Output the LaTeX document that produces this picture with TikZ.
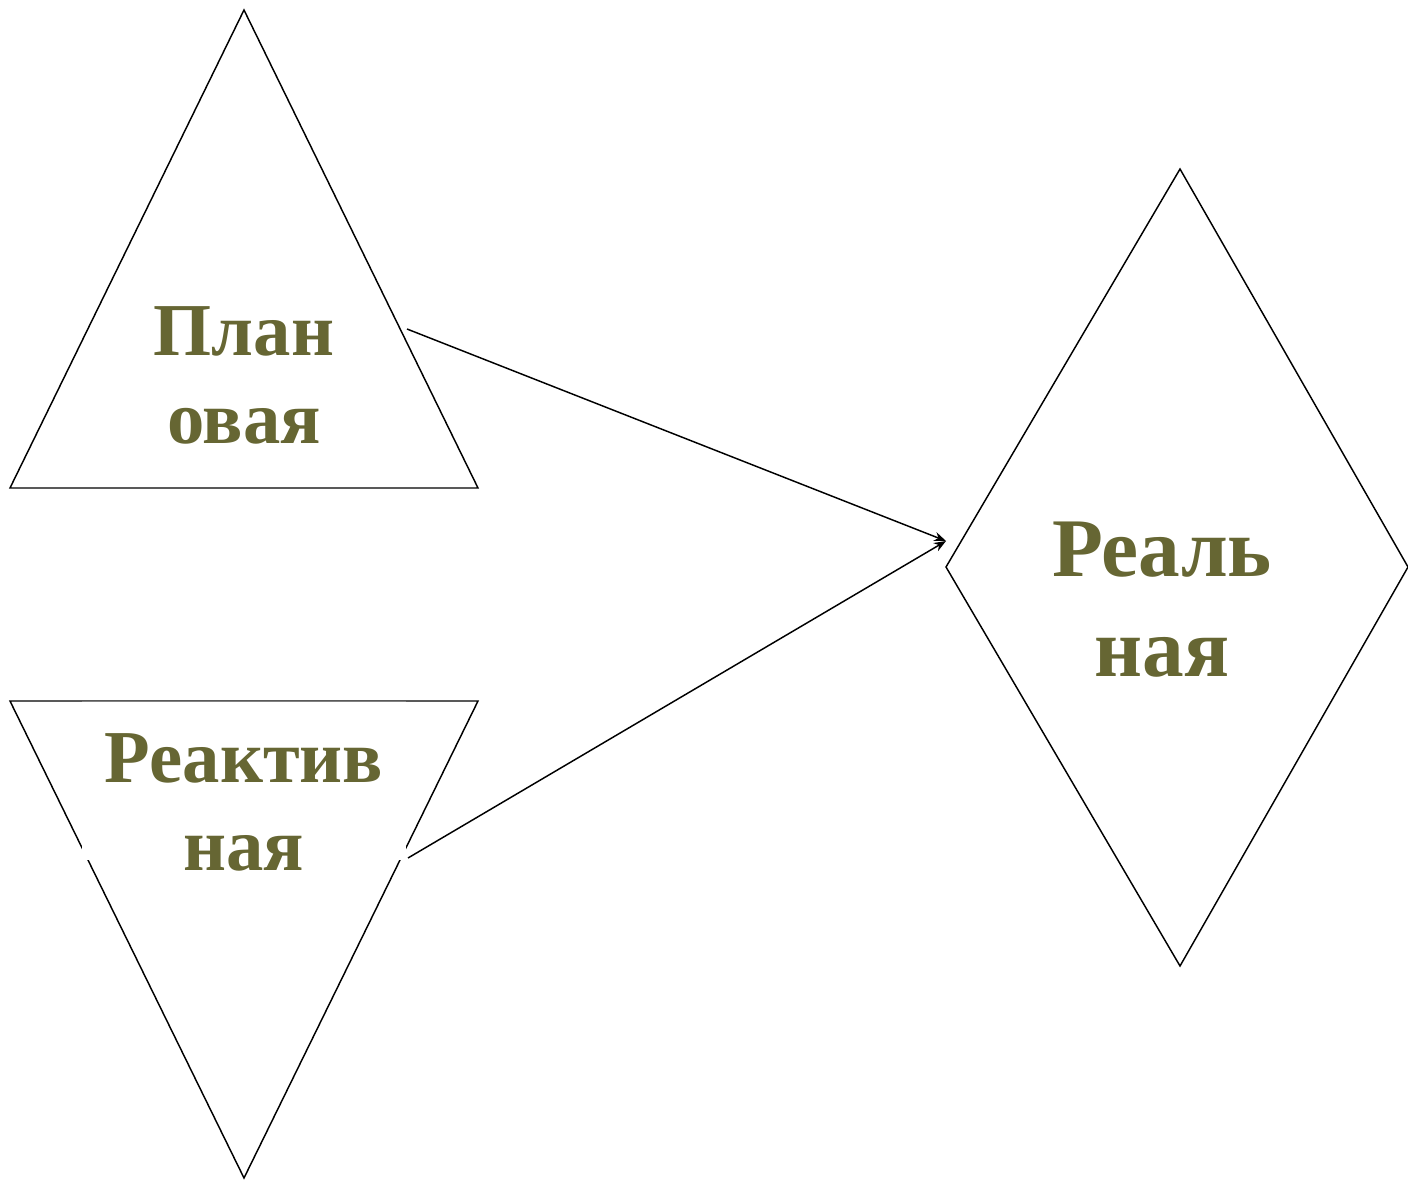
\documentclass[tikz,border=0pt]{standalone}
\usepackage{fontspec}
\setmainfont{Liberation Serif}
\usetikzlibrary{arrows.meta}
\definecolor{olive}{RGB}{102,102,51}
\tikzset{
  shapeline/.style={draw=black, line width=1.1pt, line join=miter},
  lbl/.style={text=olive, font=\bfseries\fontsize{56}{66}\selectfont, align=center, inner sep=0pt},
  biglbl/.style={text=olive, font=\bfseries\fontsize{62.5}{75}\selectfont, align=center, inner sep=0pt},
  conn/.style={draw=black, line width=1.1pt, -{Stealth[length=9pt,width=7pt]}}
}
\begin{document}
\begin{tikzpicture}[x=0.75pt,y=-0.75pt]
\useasboundingbox (0,0) rectangle (1408,1180);
% upper triangle
\coordinate (ua) at (244,10);
\coordinate (ul) at (10,488);
\coordinate (ur) at (478,488);
\draw[shapeline] (ua) -- (ur) -- (ul) -- cycle;
% lower triangle
\coordinate (la) at (244,1178);
\coordinate (ll) at (10,701);
\coordinate (lr) at (478,701);
\draw[shapeline] (ll) -- (lr) -- (la) -- cycle;
\fill[white] (82,701.7) rectangle (406,860);
\draw[gray, line width=0.5pt] (82,701) -- (406,701);
% diamond
\coordinate (dt) at (1180,169);
\coordinate (dl) at (946,567);
\coordinate (dr) at (1408,567);
\coordinate (db) at (1180,966);
\draw[shapeline] (dt) -- (dr) -- (db) -- (dl) -- cycle;
% labels
\node[lbl] (plan) at (244,375) {План\\овая};
\node[lbl] (react) at (244,802) {Реактив\\ная};
\node[biglbl] (real) at (1162,600) {Реаль\\ная};
% connectors
\coordinate (s1) at (407,329);
\coordinate (s2) at (408,858);
\coordinate (tip) at (946,541);
\draw[conn] (s1) -- (tip);
\draw[conn] (s2) -- (tip);
\end{tikzpicture}
\end{document}
